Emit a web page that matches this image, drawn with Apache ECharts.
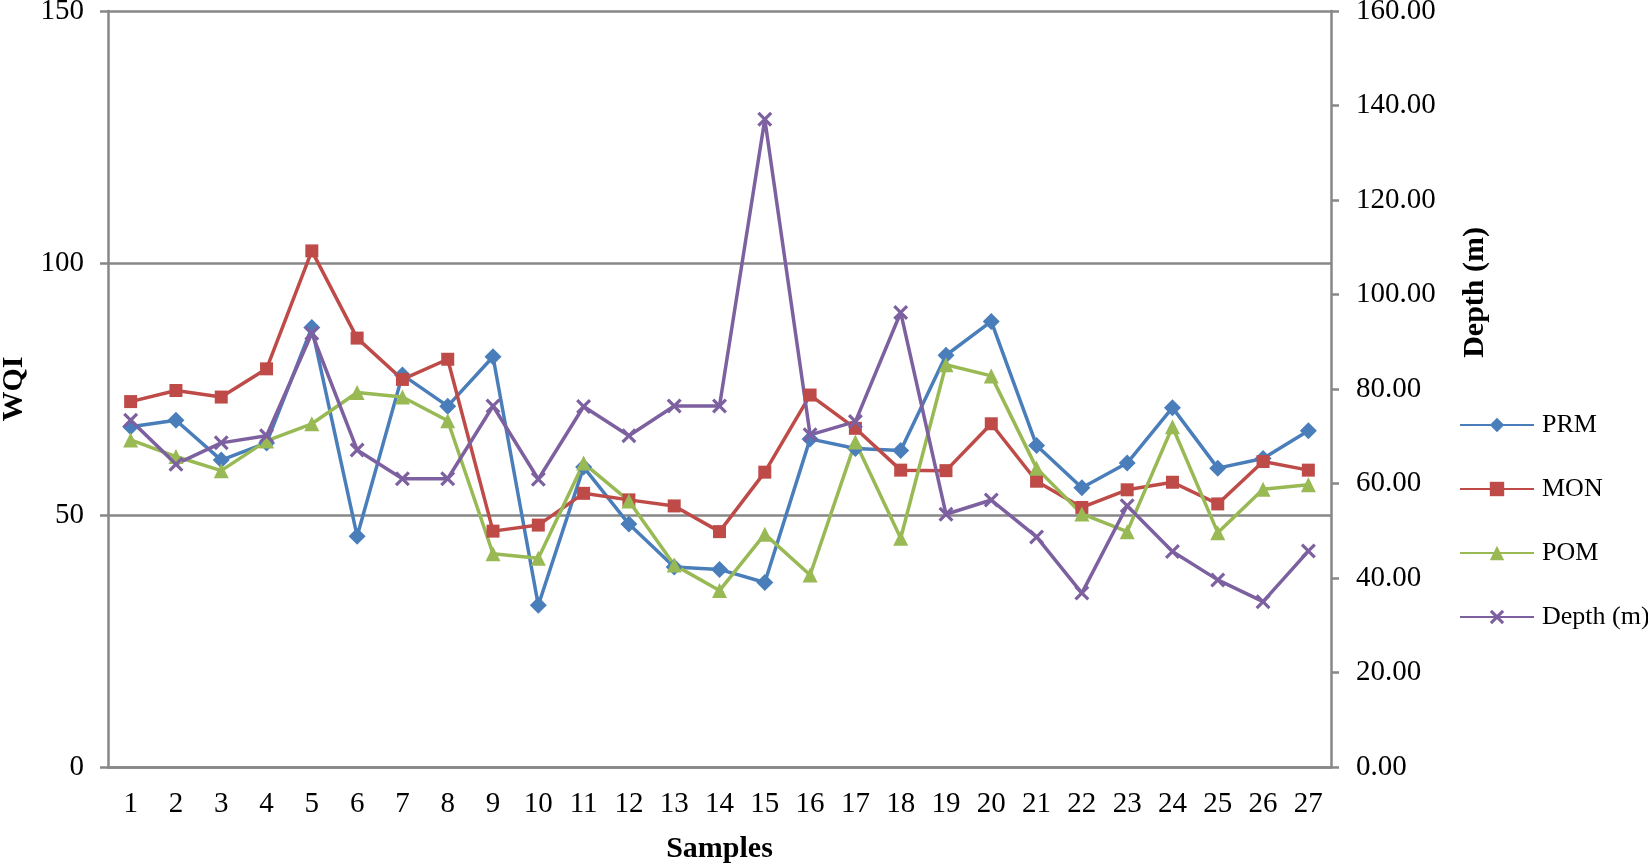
<!DOCTYPE html>
<html>
<head>
<meta charset="utf-8">
<script src="https://cdn.jsdelivr.net/npm/echarts@6/dist/echarts.min.js"></script>
<style>
html,body{margin:0;padding:0;background:#fff;}
#chart{width:1648px;height:864px;}
</style>
</head>
<body>
<div id="chart"></div>
<script>
const samples = ['1','2','3','4','5','6','7','8','9','10','11','12','13','14','15','16','17','18','19','20','21','22','23','24','25','26','27'];
const prm = [67.5,68.8,60.9,64.3,87.2,45.8,77.8,71.6,81.4,32.1,59.5,48.2,39.7,39.2,36.6,65.1,63.2,62.8,81.7,88.4,63.8,55.4,60.3,71.3,59.3,61.2,66.7];
const mon = [72.5,74.7,73.4,79.0,102.4,85.1,76.9,80.9,46.8,48.0,54.3,53.0,51.8,46.7,58.5,73.8,67.2,58.9,58.8,68.1,56.7,51.5,55.0,56.5,52.2,60.6,58.9];
const pom = [64.9,61.6,58.8,64.7,68.1,74.3,73.4,68.7,42.3,41.4,60.3,52.8,40.1,35.0,46.2,38.1,64.5,45.4,79.8,77.6,59.3,50.2,46.7,67.5,46.5,55.1,56.0];
const depth = [73.4,64.1,68.6,70.1,91.8,67.1,61.0,61.0,76.4,60.9,76.3,70.1,76.4,76.4,137.1,70.3,73.1,96.2,53.5,56.5,48.7,36.8,55.3,45.6,39.6,35.0,45.7];

const FONT = 'Liberation Serif';
const AXIS_COLOR = '#878787';
const X_SYMBOL = 'path://M0,1.5L1.5,0L5,3.5L8.5,0L10,1.5L6.5,5L10,8.5L8.5,10L5,6.5L1.5,10L0,8.5L3.5,5Z';

const chart = echarts.init(document.getElementById('chart'));
function lineSeries(name, data, color, symbol, size, yIndex) {
  return {
    name: name, type: 'line', data: data, yAxisIndex: yIndex,
    symbol: symbol, symbolSize: size, showAllSymbol: true,
    lineStyle: {color: color, width: 3.5},
    itemStyle: {color: color},
    emphasis: {disabled: true},
    animation: false
  };
}
chart.setOption({
  backgroundColor: '#fff',
  animation: false,
  grid: {left: 108, right: 317, top: 11, bottom: 97, containLabel: false, outerBoundsMode: 'none'},
  legend: {
    orient: 'vertical', left: 1454, top: 407,
    itemWidth: 74, itemHeight: 18, itemGap: 38,
    textStyle: {fontFamily: FONT, fontSize: 26, color: '#000', padding: [0, 0, 0, 3]},
    data: ['PRM','MON','POM','Depth (m)']
  },
  xAxis: {
    type: 'category', data: samples, boundaryGap: true,
    name: 'Samples', nameLocation: 'middle', nameGap: 67,
    nameTextStyle: {fontFamily: FONT, fontSize: 30, fontWeight: 'bold', color: '#000'},
    axisLine: {lineStyle: {color: AXIS_COLOR, width: 2.5}},
    axisTick: {show: false},
    axisLabel: {fontFamily: FONT, fontSize: 29, color: '#000', margin: 23, interval: 0}
  },
  yAxis: [{
    type: 'value', min: 0, max: 150, interval: 50, position: 'left',
    name: 'WQI', nameLocation: 'middle', nameGap: 79,
    nameTextStyle: {fontFamily: FONT, fontSize: 30, fontWeight: 'bold', color: '#000'},
    axisLine: {show: true, lineStyle: {color: AXIS_COLOR, width: 2.5}},
    axisTick: {show: true, inside: false, length: 8, lineStyle: {color: AXIS_COLOR, width: 2.5}},
    axisLabel: {fontFamily: FONT, fontSize: 29, color: '#000', margin: 24},
    splitLine: {show: true, lineStyle: {color: AXIS_COLOR, width: 2.5}}
  }, {
    type: 'value', min: 0, max: 160, interval: 20, position: 'right',
    axisLine: {show: true, lineStyle: {color: AXIS_COLOR, width: 2.5}},
    axisTick: {show: true, inside: false, length: 8, lineStyle: {color: AXIS_COLOR, width: 2.5}},
    axisLabel: {fontFamily: FONT, fontSize: 29, color: '#000', margin: 25,
      formatter: function (v) { return v.toFixed(2); }},
    splitLine: {show: false}
  }],
  graphic: [{
    type: 'text', left: 1460, top: 227, rotation: Math.PI / 2,
    style: {text: 'Depth (m)', fontFamily: FONT, fontSize: 30, fontWeight: 'bold', fill: '#000'}
  }],
  series: [
    lineSeries('PRM', prm, '#4A7EBB', 'diamond', 17, 0),
    lineSeries('MON', mon, '#BE4B48', 'rect', 13, 0),
    lineSeries('POM', pom, '#98B954', 'triangle', 15, 0),
    lineSeries('Depth (m)', depth, '#7D60A0', X_SYMBOL, 15, 1)
  ]
});
</script>
</body>
</html>
